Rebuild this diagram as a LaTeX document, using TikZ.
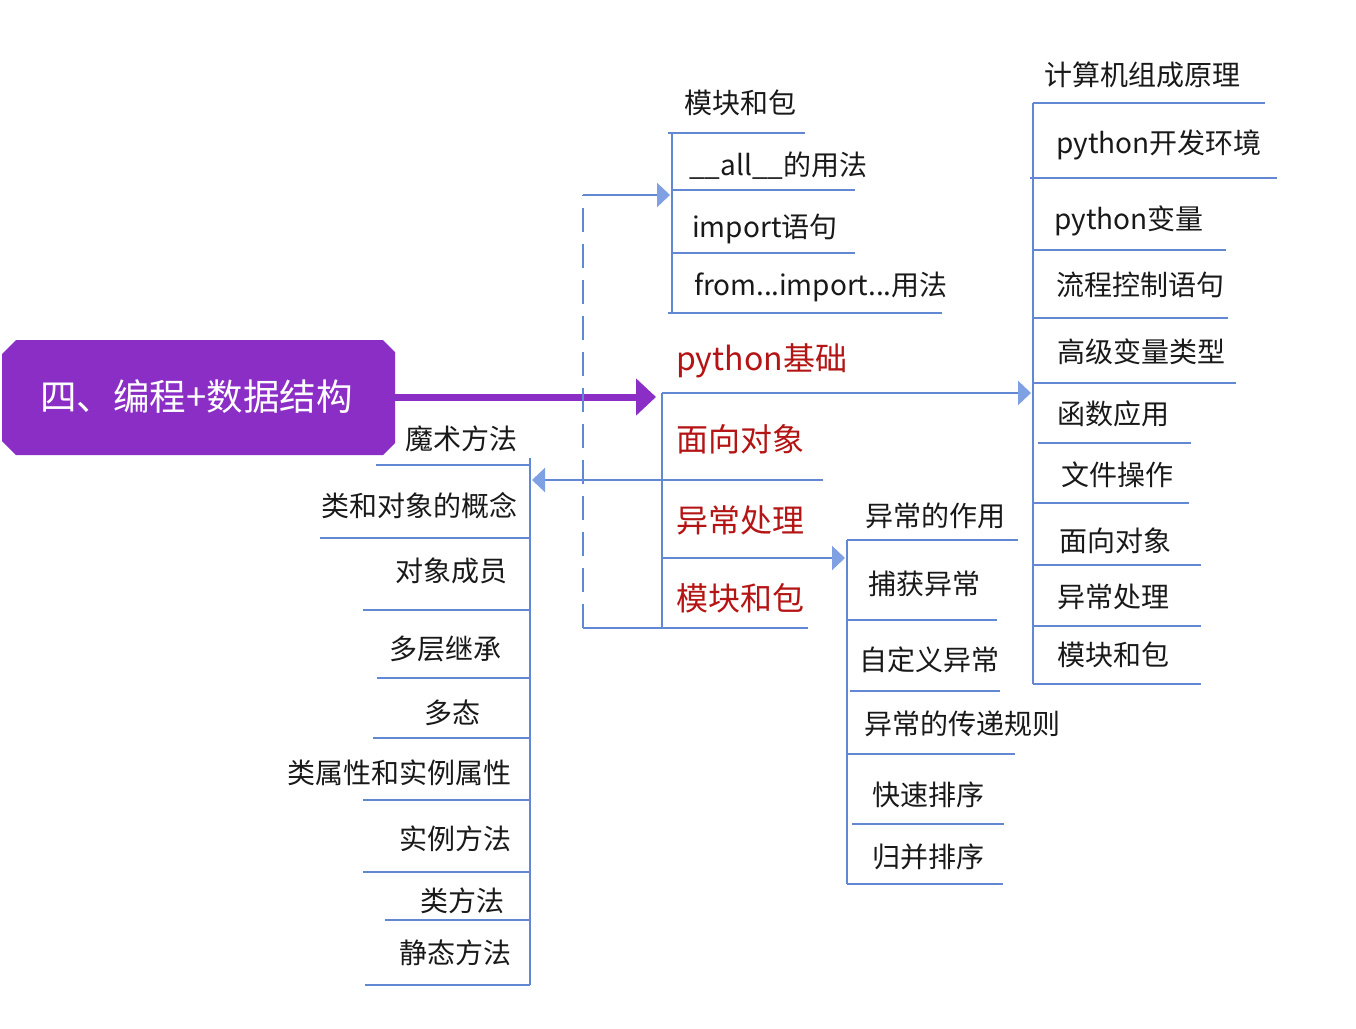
\documentclass[tikz,border=0pt]{standalone}
\usepackage{fontspec}
\setmainfont{Noto Sans CJK SC}
\usetikzlibrary{arrows.meta}

\definecolor{rootpurple}{RGB}{139,46,198}
\definecolor{lineblue}{RGB}{98,136,212}
\definecolor{headblue}{RGB}{128,160,228}
\definecolor{topicred}{RGB}{180,20,20}
\definecolor{itemblack}{RGB}{25,25,25}

\tikzset{
  rootlabel/.style={text=white, inner sep=0pt, minimum width=393pt, minimum height=115pt,
    font=\fontsize{36.5}{39}\selectfont},
  topic/.style={anchor=base west, inner sep=0pt, text=topicred, font=\fontsize{32}{34}\selectfont},
  item/.style={anchor=base west, inner sep=0pt, text=itemblack, font=\fontsize{28}{30}\selectfont},
  branch/.style={draw=lineblue, line width=2.7pt},
  feed/.style={branch, -{Triangle[length=13pt,width=24pt,color=headblue]}},
  bigarrow/.style={draw=rootpurple, line width=7pt, -{Triangle[length=20pt,width=36pt]}}
}

\begin{document}
\begin{tikzpicture}[x=1pt, y=-1pt]
  \useasboundingbox (0,0) rectangle (1356,1028);

  % Root
  \fill[rootpurple] (2,354) -- (16,340) -- (383,340) -- (395,352) -- (395,443)
    -- (383,455) -- (16,455) -- (2,441) -- cycle;
  \node[rootlabel] (root) at (196.5,397) {四、编程+数据结构};

  % Topics
  \node[topic] (base) at (676,370) {python基础};
  \node[topic] (oop) at (676,451) {面向对象};
  \node[topic] (exc) at (676,532) {异常处理};
  \node[topic] (mod) at (676,610) {模块和包};

  % Modules and packages
  \node[item] (m0) at (684,113) {模块和包};
  \node[item] (m1) at (689,175) {\_\_all\_\_的用法};
  \node[item] (m2) at (692,237) {import语句};
  \node[item] (m3) at (694,295) {from..\kern-1pt.import..\kern-1pt.用法};

  % Python basics
  \node[item] (r0) at (1044,85) {计算机组成原理};
  \node[item] (r1) at (1056,153) {python开发环境};
  \node[item] (r2) at (1054,229) {python变量};
  \node[item] (r3) at (1056,295) {流程控制语句};
  \node[item] (r4) at (1057,362) {高级变量类型};
  \node[item] (r5) at (1057,424) {函数应用};
  \node[item] (r6) at (1061,485) {文件操作};
  \node[item] (r7) at (1059,551) {面向对象};
  \node[item] (r8) at (1057,607) {异常处理};
  \node[item] (r9) at (1057,665) {模块和包};

  % Exceptions
  \node[item] (e1) at (865,526) {异常的作用};
  \node[item] (e2) at (868,594) {捕获异常};
  \node[item] (e3) at (859,670) {自定义异常};
  \node[item] (e4) at (864,734) {异常的传递规则};
  \node[item] (e5) at (872,805) {快速排序};
  \node[item] (e6) at (872,867) {归并排序};

  % Object oriented
  \node[item] (o1) at (405,449) {魔术方法};
  \node[item] (o2) at (321,516) {类和对象的概念};
  \node[item] (o3) at (395,581) {对象成员};
  \node[item] (o4) at (389,659) {多层继承};
  \node[item] (o5) at (424,723) {多态};
  \node[item] (o6) at (287,783) {类属性和实例属性};
  \node[item] (o7) at (399,849) {实例方法};
  \node[item] (o8) at (420,911) {类方法};
  \node[item] (o9) at (399,963) {静态方法};

  % Trunk points
  \coordinate (hub) at (656,397);
  \coordinate (spine top) at (662,393);
  \coordinate (spine bot) at (662,628);
  \coordinate (base in) at (1031,393);
  \coordinate (oop out) at (823,480);
  \coordinate (oop in) at (532,480);
  \coordinate (exc out) at (662,558);
  \coordinate (exc in) at (845,558);
  \coordinate (mod out) at (808,628);
  \coordinate (dash bot) at (583,628);
  \coordinate (dash top) at (583,195);
  \coordinate (mod in) at (670,195);

  % Edges
  \draw[bigarrow] (root) -- (hub);
  \draw[branch] (spine top) -- (spine bot);
  \draw[feed] (spine top) -- (base in);
  \draw[feed] (oop out) -- (oop in);
  \draw[feed] (exc out) -- (exc in);
  \draw[branch] (mod out) -- (dash bot);
  \draw[branch, dash pattern=on 24pt off 12pt] (dash bot) -- (dash top);
  \draw[feed] (dash top) -- (mod in);

  % Module lines
  \draw[branch] (672,133) -- (672,313);
  \draw[branch] (668,133) -- (805,133);
  \draw[branch] (672,190) -- (855,190);
  \draw[branch] (672,253) -- (855,253);
  \draw[branch] (668,313) -- (942,313);

  % Basics lines
  \draw[branch] (1033,103) -- (1033,684);
  \draw[branch] (1033,103) -- (1265,103);
  \draw[branch] (1030,178) -- (1277,178);
  \draw[branch] (1033,250) -- (1226,250);
  \draw[branch] (1033,318) -- (1228,318);
  \draw[branch] (1033,383) -- (1236,383);
  \draw[branch] (1038,443) -- (1191,443);
  \draw[branch] (1033,503) -- (1189,503);
  \draw[branch] (1033,565) -- (1201,565);
  \draw[branch] (1033,626) -- (1201,626);
  \draw[branch] (1033,684) -- (1201,684);

  % Exception lines
  \draw[branch] (847,540) -- (847,884);
  \draw[branch] (847,540) -- (1018,540);
  \draw[branch] (847,620) -- (997,620);
  \draw[branch] (850,691) -- (1000,691);
  \draw[branch] (847,754) -- (1015,754);
  \draw[branch] (852,824) -- (1004,824);
  \draw[branch] (847,884) -- (1003,884);

  % Object oriented lines
  \draw[branch] (530,458) -- (530,985);
  \draw[branch] (376,465) -- (530,465);
  \draw[branch] (320,538) -- (530,538);
  \draw[branch] (363,610) -- (530,610);
  \draw[branch] (377,678) -- (530,678);
  \draw[branch] (373,738) -- (530,738);
  \draw[branch] (363,800) -- (530,800);
  \draw[branch] (363,872) -- (530,872);
  \draw[branch] (385,920) -- (530,920);
  \draw[branch] (365,985) -- (530,985);
\end{tikzpicture}
\end{document}
